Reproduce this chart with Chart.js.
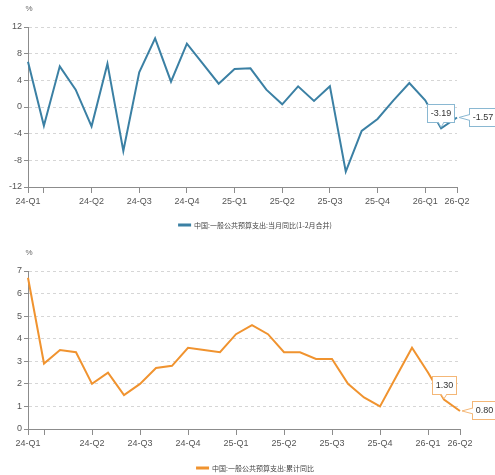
<!DOCTYPE html>
<html>
<head>
<meta charset="utf-8">
<script src="https://cdn.jsdelivr.net/npm/chart.js@4.4.1/dist/chart.umd.min.js"></script>
<style>
  html, body { margin: 0; padding: 0; background: #fff; }
  canvas { display: block; }
</style>
</head>
<body>
<canvas id="monthChart" width="495" height="240"></canvas>
<canvas id="cumChart" width="495" height="235"></canvas>
<script>
// ── Data ─────────────────────────────────────────────────────── //
const MONTHS = [
  '2024-02', '2024-03', '2024-04', '2024-05', '2024-06', '2024-07', '2024-08',
  '2024-09', '2024-10', '2024-11', '2024-12', '2025-01', '2025-02', '2025-03',
  '2025-04', '2025-05', '2025-06', '2025-07', '2025-08', '2025-09', '2025-10',
  '2025-11', '2025-12', '2026-01', '2026-02', '2026-03', '2026-04', '2026-05',
];

// which categories carry a tick mark, and the text under it
const TICK_INDEX = [0, 1, 4, 7, 10, 13, 16, 19, 22, 25, 27];
const TICK_TEXT  = ['24-Q1', '', '24-Q2', '24-Q3', '24-Q4', '25-Q1', '25-Q2', '25-Q3', '25-Q4', '26-Q1', '26-Q2'];

const MONTHLY_NAME = '中国:一般公共预算支出:当月同比(1-2月合并)';
const MONTHLY_YOY = [
  6.8, -2.8, 6.1, 2.6, -2.9, 6.5, -6.6, 5.2, 10.3, 3.8, 9.5, 6.5, 3.5, 5.7,
  5.8, 2.6, 0.4, 3.1, 0.9, 3.1, -9.7, -3.6, -1.8, 1.0, 3.6, 1.0, -3.19, -1.57,
];
const MONTHLY_MARKED = [26, 27];

const CUM_NAME = '中国:一般公共预算支出:累计同比';
const CUM_YOY = [
  6.7, 2.9, 3.5, 3.4, 2.0, 2.5, 1.5, 2.0, 2.7, 2.8, 3.6, 3.5, 3.4, 4.2,
  4.6, 4.2, 3.4, 3.4, 3.1, 3.1, 2.0, 1.4, 1.0, 2.3, 3.6, 2.5, 1.30, 0.80,
];
const CUM_MARKED = [26, 27];

// ── Styles ───────────────────────────────────────────────────── //
const NARROW = "'Liberation Sans Narrow', 'Liberation Sans', sans-serif";
const CJK    = "'Noto Sans CJK SC', sans-serif";
const AXIS   = '#8c8c8c';

/**
 * Draws the "%" unit above the y axis and a centered legend line
 * below the x axis.
 */
const decorPlugin = {
  id: 'decor',
  afterDraw(chart, args, opts) {
    const { ctx } = chart;
    ctx.save();
    ctx.fillStyle = '#666';
    ctx.font = `8px ${NARROW}`;
    ctx.textAlign = 'center';
    ctx.textBaseline = 'middle';
    ctx.fillText('%', opts.unitX, opts.unitY);

    const ds = chart.data.datasets[0];
    ctx.font = `7px ${CJK}`;
    const tw = ctx.measureText(ds.label).width;
    const total = 13 + 3 + tw;
    const x0 = opts.legendX - total / 2;
    ctx.fillStyle = ds.borderColor;
    ctx.fillRect(x0, opts.legendY - 1.5, 13, 3);
    ctx.fillStyle = '#444';
    ctx.textAlign = 'left';
    ctx.fillText(ds.label, x0 + 16, opts.legendY);
    ctx.restore();
  },
};

/**
 * Value boxes with a small tail pointing at the marked points.
 */
const calloutPlugin = {
  id: 'callouts',
  afterDatasetsDraw(chart, args, opts) {
    const { ctx } = chart;
    const meta = chart.getDatasetMeta(0);
    const values = chart.data.datasets[0].data;
    ctx.save();
    ctx.font = `9px ${NARROW}`;
    opts.items.forEach(item => {
      const pt = meta.data[item.index];
      const text = values[item.index].toFixed(2);
      const w = Math.round(ctx.measureText(text).width + 7);
      const h = 19;
      let bx, by;
      if (item.side === 'up') {
        bx = Math.round(pt.x - w / 2);
        by = Math.round(pt.y - 5 - h);
      } else {
        bx = Math.round(pt.x + 12);
        by = Math.round(pt.y - h / 2);
      }
      ctx.fillStyle = '#fff';
      ctx.strokeStyle = opts.border;
      ctx.lineWidth = 1;
      ctx.fillRect(bx, by, w, h);
      ctx.strokeRect(bx + 0.5, by + 0.5, w - 1, h - 1);

      // tail
      ctx.beginPath();
      if (item.side === 'up') {
        ctx.moveTo(pt.x - 3, by + h - 1);
        ctx.lineTo(pt.x, pt.y - 1);
        ctx.lineTo(pt.x + 3, by + h - 1);
      } else {
        ctx.moveTo(bx + 1, pt.y - 3);
        ctx.lineTo(pt.x + 2, pt.y);
        ctx.lineTo(bx + 1, pt.y + 3);
      }
      ctx.fill();
      ctx.stroke();

      ctx.fillStyle = '#333';
      ctx.textAlign = 'center';
      ctx.textBaseline = 'middle';
      ctx.fillText(text, bx + w / 2, by + h / 2 + 0.5);
    });
    ctx.restore();
  },
};

/**
 * Builds one line chart.
 */
function makeChart(id, name, values, marked, color, boxColor, y, pad, decor) {
  const ctx = document.getElementById(id).getContext('2d');
  return new Chart(ctx, {
    type: 'line',
    plugins: [calloutPlugin, decorPlugin],
    data: {
      labels: MONTHS,
      datasets: [{
        label: name,
        data: values,
        borderColor: color,
        borderWidth: 2,
        pointRadius: 0,
        tension: 0,
      }],
    },
    options: {
      responsive: false,
      animation: false,
      layout: { padding: pad },
      plugins: {
        legend: { display: false },
        tooltip: { enabled: false },
        callouts: {
          border: boxColor,
          items: marked.map((index, i) => ({ index, side: i === 0 ? 'up' : 'right' })),
        },
        decor,
      },
      scales: {
        x: {
          offset: false,
          afterFit(scale) { scale.height = 24; },
          grid: {
            drawOnChartArea: false,
            tickLength: 6,
            color: c => TICK_INDEX.includes(c.index) ? AXIS : 'rgba(0,0,0,0)',
          },
          border: { color: AXIS },
          ticks: {
            autoSkip: false,
            maxRotation: 0,
            minRotation: 0,
            padding: 3,
            color: '#555',
            font: { family: NARROW, size: 9 },
            callback: (v, i) => {
              const k = TICK_INDEX.indexOf(i);
              return k >= 0 ? TICK_TEXT[k] : '';
            },
          },
        },
        y: {
          min: y.min,
          max: y.max,
          afterFit(scale) { scale.width = 28; },
          grid: {
            color: '#d6d6d6',
            tickColor: AXIS,
            tickLength: 4,
            tickBorderDash: [],
          },
          border: { color: AXIS, dash: [3, 3] },
          ticks: {
            stepSize: y.step,
            padding: 2,
            color: '#555',
            font: { family: NARROW, size: 9 },
          },
        },
      },
    },
  });
}

makeChart('monthChart', MONTHLY_NAME, MONTHLY_YOY, MONTHLY_MARKED,
  '#3b80a4', '#8ab8d2',
  { min: -12, max: 12, step: 4 },
  { top: 27, right: 38, bottom: 29, left: 0 },
  { unitX: 29, unitY: 9, legendX: 255, legendY: 225 });

makeChart('cumChart', CUM_NAME, CUM_YOY, CUM_MARKED,
  '#f0932f', '#f4b777',
  { min: 0, max: 7, step: 1 },
  { top: 31, right: 35, bottom: 22, left: 0 },
  { unitX: 29, unitY: 13, legendX: 255, legendY: 228 });
</script>
</body>
</html>
